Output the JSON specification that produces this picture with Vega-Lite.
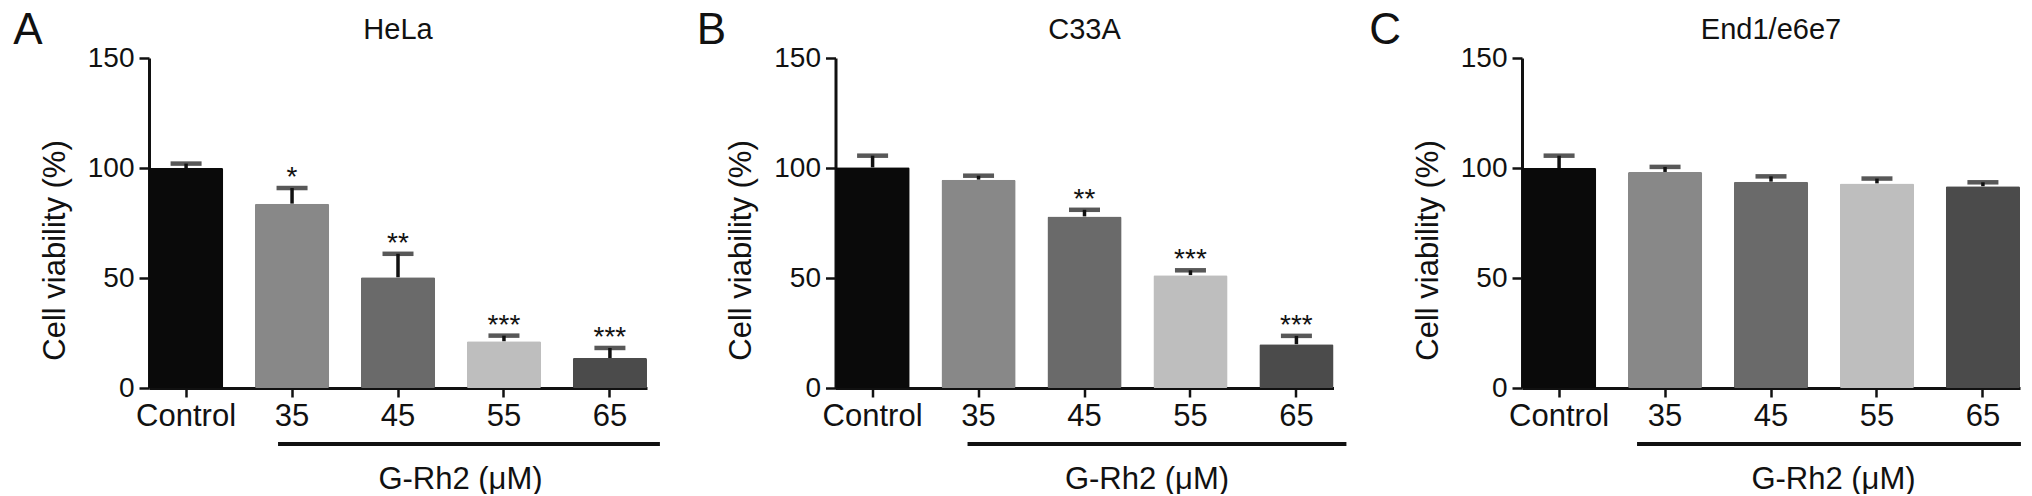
{
  "$schema": "https://vega.github.io/schema/vega-lite/v6.json",
  "background": "white",
  "padding": {"left": 13, "top": 9, "right": 0, "bottom": 0},
  "autosize": {"type": "pad"},
  "bounds": "flush",
  "spacing": 686.5,
  "data": {
    "values": [
      {"panel": "HeLa", "group": "Control", "mean": 100, "upper": 102, "star": ""},
      {"panel": "HeLa", "group": "35", "mean": 83.8, "upper": 90.9, "star": "*"},
      {"panel": "HeLa", "group": "45", "mean": 50.3, "upper": 61, "star": "**"},
      {"panel": "HeLa", "group": "55", "mean": 21.2, "upper": 23.8, "star": "***"},
      {"panel": "HeLa", "group": "65", "mean": 13.6, "upper": 18.2, "star": "***"},
      {"panel": "C33A", "group": "Control", "mean": 100.3, "upper": 105.6, "star": ""},
      {"panel": "C33A", "group": "35", "mean": 94.7, "upper": 96.5, "star": ""},
      {"panel": "C33A", "group": "45", "mean": 78, "upper": 81, "star": "**"},
      {"panel": "C33A", "group": "55", "mean": 51.3, "upper": 53.5, "star": "***"},
      {"panel": "C33A", "group": "65", "mean": 19.9, "upper": 23.7, "star": "***"},
      {"panel": "End1/e6e7", "group": "Control", "mean": 100, "upper": 105.6, "star": ""},
      {"panel": "End1/e6e7", "group": "35", "mean": 98.2, "upper": 100.5, "star": ""},
      {"panel": "End1/e6e7", "group": "45", "mean": 93.8, "upper": 96.2, "star": ""},
      {"panel": "End1/e6e7", "group": "55", "mean": 93, "upper": 95.2, "star": ""},
      {"panel": "End1/e6e7", "group": "65", "mean": 91.7, "upper": 93.5, "star": ""}
    ]
  },
  "config": {
    "font": "Liberation Sans",
    "view": {"stroke": null},
    "title": {"fontWeight": "normal", "color": "#111"},
    "axis": {
      "grid": false,
      "domainColor": "#111",
      "domainWidth": 3,
      "tickColor": "#111",
      "tickWidth": 2.5,
      "labelColor": "#111",
      "labelFont": "Liberation Sans",
      "titleColor": "#111",
      "titleFont": "Liberation Sans",
      "titleFontWeight": "normal"
    },
    "axisX": {
      "labelFontSize": 31,
      "labelAngle": 0,
      "labelPadding": 4,
      "tickSize": 9,
      "titleFontSize": 31,
      "titleX": 311,
      "titleY": 100,
      "titleBaseline": "alphabetic",
      "titleAlign": "center"
    },
    "axisY": {
      "labelFontSize": 28,
      "labelPadding": 5,
      "tickSize": 10,
      "titleFontSize": 31,
      "titlePadding": 16,
      "titleY": 192,
      "titleAlign": "center"
    }
  },
  "hconcat": [
    {
      "title": {"text": "A", "anchor": "start", "fontSize": 44, "dx": -26, "dy": 37, "offset": 0},
      "vconcat": [
        {
          "width": 498,
          "height": 330,
          "title": {"text": "HeLa", "fontSize": 29, "offset": -1},
          "transform": [{"filter": "datum.panel === 'HeLa'"}],
          "encoding": {
            "x": {"field": "group", "type": "nominal", "sort": ["Control", "35", "45", "55", "65"], "scale": {"paddingInner": 0.3, "paddingOuter": 0}, "axis": {"title": "G-Rh2 (μM)"}}
          },
          "layer": [
            {"mark": {"type": "rule", "strokeWidth": 3.5, "color": "#111"}, "encoding": {"y": {"field": "mean", "type": "quantitative", "scale": {"domain": [0, 150], "nice": false}, "axis": {"values": [0, 50, 100, 150]}, "title": "Cell viability (%)"}, "y2": {"field": "upper"}}},
            {"mark": {"type": "bar", "cornerRadius": 1.5}, "encoding": {"y": {"field": "mean", "type": "quantitative", "title": "Cell viability (%)"}, "color": {"field": "group", "type": "nominal", "scale": {"domain": ["Control", "35", "45", "55", "65"], "range": ["#0a0a0a", "#888888", "#6a6a6a", "#bebebe", "#4b4b4b"]}, "legend": null}}},
            {"mark": {"type": "tick", "thickness": 4.5, "size": 31, "color": "#111"}, "encoding": {"y": {"field": "upper", "type": "quantitative", "title": "Cell viability (%)"}}},
            {"mark": {"type": "text", "fontSize": 28, "baseline": "alphabetic", "dy": -2, "color": "#111"}, "encoding": {"y": {"field": "upper", "type": "quantitative", "title": "Cell viability (%)"}, "text": {"field": "star"}}},
            {"transform": [{"filter": "datum.group === '35'"}], "mark": {"type": "rule", "strokeWidth": 4, "color": "#111", "xOffset": -14, "x2Offset": 50}, "encoding": {"x": {"datum": "35"}, "x2": {"datum": "65"}, "y": {"datum": -25.5, "type": "quantitative", "title": "Cell viability (%)"}}}
          ]
        }
      ]
    },
    {
      "title": {"text": "B", "anchor": "start", "fontSize": 44, "dx": -29, "dy": 37, "offset": 0},
      "vconcat": [
        {
          "width": 498,
          "height": 330,
          "title": {"text": "C33A", "fontSize": 29, "offset": -1},
          "transform": [{"filter": "datum.panel === 'C33A'"}],
          "encoding": {
            "x": {"field": "group", "type": "nominal", "sort": ["Control", "35", "45", "55", "65"], "scale": {"paddingInner": 0.3, "paddingOuter": 0}, "axis": {"title": "G-Rh2 (μM)"}}
          },
          "layer": [
            {"mark": {"type": "rule", "strokeWidth": 3.5, "color": "#111"}, "encoding": {"y": {"field": "mean", "type": "quantitative", "scale": {"domain": [0, 150], "nice": false}, "axis": {"values": [0, 50, 100, 150]}, "title": "Cell viability (%)"}, "y2": {"field": "upper"}}},
            {"mark": {"type": "bar", "cornerRadius": 1.5}, "encoding": {"y": {"field": "mean", "type": "quantitative", "title": "Cell viability (%)"}, "color": {"field": "group", "type": "nominal", "scale": {"domain": ["Control", "35", "45", "55", "65"], "range": ["#0a0a0a", "#888888", "#6a6a6a", "#bebebe", "#4b4b4b"]}, "legend": null}}},
            {"mark": {"type": "tick", "thickness": 4.5, "size": 31, "color": "#111"}, "encoding": {"y": {"field": "upper", "type": "quantitative", "title": "Cell viability (%)"}}},
            {"mark": {"type": "text", "fontSize": 28, "baseline": "alphabetic", "dy": -2, "color": "#111"}, "encoding": {"y": {"field": "upper", "type": "quantitative", "title": "Cell viability (%)"}, "text": {"field": "star"}}},
            {"transform": [{"filter": "datum.group === '35'"}], "mark": {"type": "rule", "strokeWidth": 4, "color": "#111", "xOffset": -11, "x2Offset": 50}, "encoding": {"x": {"datum": "35"}, "x2": {"datum": "65"}, "y": {"datum": -25.5, "type": "quantitative", "title": "Cell viability (%)"}}}
          ]
        }
      ]
    },
    {
      "title": {"text": "C", "anchor": "start", "fontSize": 44, "dx": -43, "dy": 37, "offset": 0},
      "vconcat": [
        {
          "width": 498,
          "height": 330,
          "title": {"text": "End1/e6e7", "fontSize": 29, "offset": -1},
          "transform": [{"filter": "datum.panel === 'End1/e6e7'"}],
          "encoding": {
            "x": {"field": "group", "type": "nominal", "sort": ["Control", "35", "45", "55", "65"], "scale": {"paddingInner": 0.3, "paddingOuter": 0}, "axis": {"title": "G-Rh2 (μM)"}}
          },
          "layer": [
            {"mark": {"type": "rule", "strokeWidth": 3.5, "color": "#111"}, "encoding": {"y": {"field": "mean", "type": "quantitative", "scale": {"domain": [0, 150], "nice": false}, "axis": {"values": [0, 50, 100, 150]}, "title": "Cell viability (%)"}, "y2": {"field": "upper"}}},
            {"mark": {"type": "bar", "cornerRadius": 1.5}, "encoding": {"y": {"field": "mean", "type": "quantitative", "title": "Cell viability (%)"}, "color": {"field": "group", "type": "nominal", "scale": {"domain": ["Control", "35", "45", "55", "65"], "range": ["#0a0a0a", "#888888", "#6a6a6a", "#bebebe", "#4b4b4b"]}, "legend": null}}},
            {"mark": {"type": "tick", "thickness": 4.5, "size": 31, "color": "#111"}, "encoding": {"y": {"field": "upper", "type": "quantitative", "title": "Cell viability (%)"}}},
            {"mark": {"type": "text", "fontSize": 28, "baseline": "alphabetic", "dy": -2, "color": "#111"}, "encoding": {"y": {"field": "upper", "type": "quantitative", "title": "Cell viability (%)"}, "text": {"field": "star"}}},
            {"transform": [{"filter": "datum.group === '35'"}], "mark": {"type": "rule", "strokeWidth": 4, "color": "#111", "xOffset": -28, "x2Offset": 38}, "encoding": {"x": {"datum": "35"}, "x2": {"datum": "65"}, "y": {"datum": -25.5, "type": "quantitative", "title": "Cell viability (%)"}}}
          ]
        }
      ]
    }
  ]
}
